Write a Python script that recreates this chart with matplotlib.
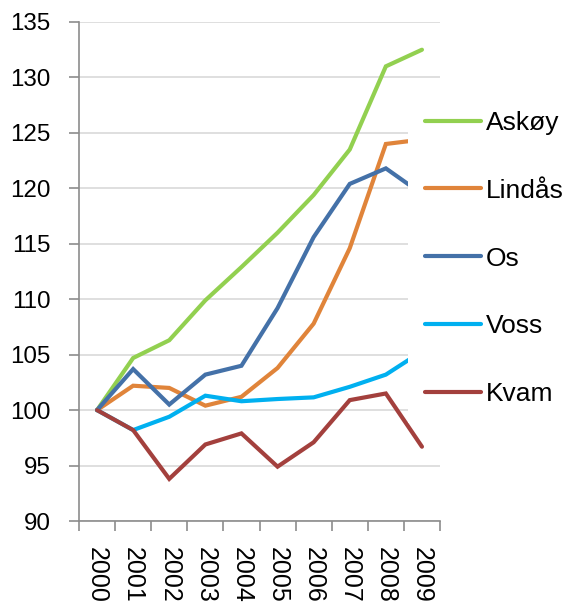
import numpy as np
import matplotlib.pyplot as plt

plt.rcParams['font.family'] = ['Liberation Sans', 'DejaVu Sans']

years = ['2000', '2001', '2002', '2003', '2004', '2005', '2006', '2007', '2008', '2009']
askoy = [100, 104.7, 106.3, 109.9, 112.9, 116.0, 119.4, 123.5, 131.0, 132.5]
lindas = [100, 102.2, 102.0, 100.4, 101.2, 103.8, 107.8, 114.6, 124.0, 124.4]
os_ = [100, 103.7, 100.5, 103.2, 104.0, 109.2, 115.6, 120.4, 121.8, 119.5]
voss = [100, 98.2, 99.4, 101.3, 100.8, 101.0, 101.15, 102.1, 103.2, 105.3]
kvam = [100, 98.2, 93.8, 96.9, 97.9, 94.9, 97.1, 100.9, 101.5, 96.7]

series = [('Askøy', askoy, '#92D050'),
          ('Lindås', lindas, '#E0843A'),
          ('Os', os_, '#4471A8'),
          ('Voss', voss, '#00B0F0'),
          ('Kvam', kvam, '#A3403D')]

fig = plt.figure(figsize=(5.65, 6.02), dpi=100)
ax = fig.add_axes([79 / 565, 1 - 521 / 602, (440 - 79) / 565, (521 - 22) / 602])

x = np.arange(len(years))
for name, vals, col in series:
    ax.plot(x, vals, color=col, lw=3.0, label=name, solid_capstyle='round',
            solid_joinstyle='miter')

ax.set_xlim(-0.5, len(years) - 0.5)
ax.set_ylim(90, 135)
ax.set_yticks(np.arange(90, 136, 5))
ax.set_xticks(x)
ax.set_xticklabels(years, rotation=-90, va='top', ha='center')
ax.set_xticks(np.arange(-0.5, len(years), 1), minor=True)

ax.grid(axis='y', color='#D9D9D9', lw=1.2)
ax.set_axisbelow(True)
for s in ['top', 'right']:
    ax.spines[s].set_visible(False)
for s in ['left', 'bottom']:
    ax.spines[s].set_color('#8C8C8C')
    ax.spines[s].set_linewidth(1.2)

ax.tick_params(axis='y', which='major', length=7, color='#8C8C8C', width=1.2,
               labelsize=17.4, pad=13.5)
ax.tick_params(axis='x', which='major', length=0, labelsize=18, pad=18.5)
ax.tick_params(axis='x', which='minor', length=7, color='#8C8C8C', width=1.2)

leg = ax.legend(loc='upper left', bbox_to_anchor=(408 / 565, 1 - 94 / 602),
                bbox_transform=fig.transFigure, fontsize=19, frameon=True,
                facecolor='white', edgecolor='none', framealpha=1, fancybox=False,
                handlelength=2.12, handletextpad=0.19, labelspacing=1.66,
                borderpad=0.64, borderaxespad=0)
for line in leg.get_lines():
    line.set_linewidth(3.0)

fig.savefig('out.png', dpi=100)
